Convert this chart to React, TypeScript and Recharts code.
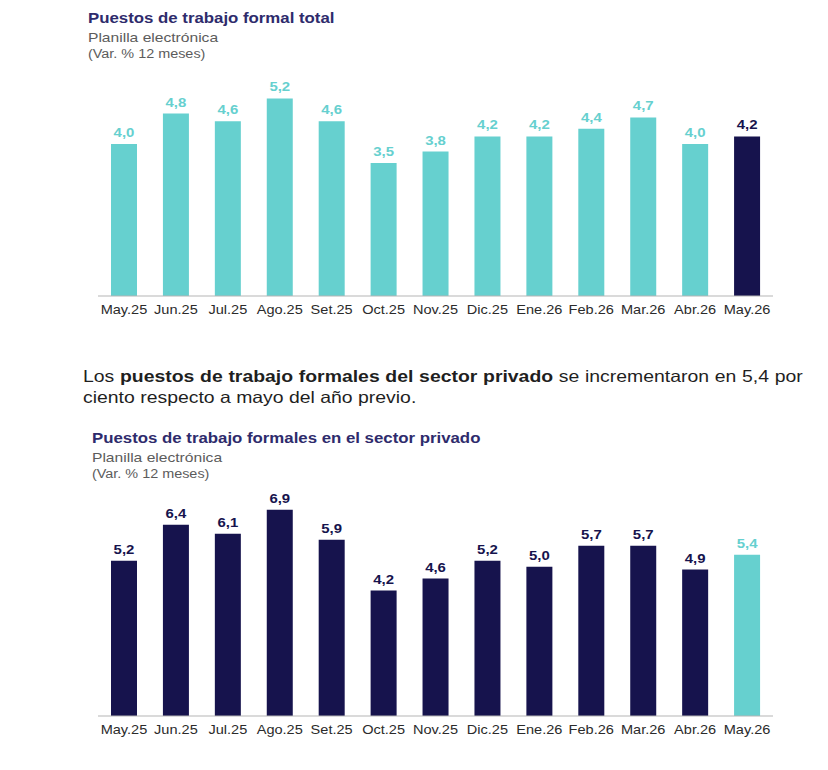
import { Bar, BarChart, Cell, LabelList, XAxis, YAxis } from "recharts";

const TEAL = "#66d0cf";
const NAVY = "#16134d";

const months = [
  "May.25", "Jun.25", "Jul.25", "Ago.25", "Set.25", "Oct.25", "Nov.25",
  "Dic.25", "Ene.26", "Feb.26", "Mar.26", "Abr.26", "May.26",
];
const totalValues = [4.0, 4.8, 4.6, 5.2, 4.6, 3.5, 3.8, 4.2, 4.2, 4.4, 4.7, 4.0, 4.2];
const privateValues = [5.2, 6.4, 6.1, 6.9, 5.9, 4.2, 4.6, 5.2, 5.0, 5.7, 5.7, 4.9, 5.4];

const font = "'Liberation Sans', Arial, sans-serif";
// the source picture is stretched sideways, so text gets a similar stretch
const STRETCH = 1.2;
const TICK_STRETCH = 1.12;

function fmt(v: number) {
  return v.toFixed(1).replace(".", ",");
}

function MonthTick(props: any) {
  const { x, y, payload } = props;
  return (
    <text
      transform={`translate(${x}, ${y + 16}) scale(${TICK_STRETCH}, 1)`}
      textAnchor="middle"
      fill="#2b2b2b"
      fontSize={13}
      fontFamily={font}
    >
      {payload.value}
    </text>
  );
}

interface PanelProps {
  top: number;
  title: string;
  titleLeft: number;
  values: number[];
  colors: string[];
  maxY: number;
  marginTop: number;
}

function Panel({ top, title, titleLeft, values, colors, maxY, marginTop }: PanelProps) {
  const data = months.map((m, i) => ({ month: m, value: values[i] }));

  const renderLabel = (props: any) => {
    const { x, y, width, value, index } = props;
    return (
      <text
        transform={`translate(${x + width / 2}, ${y - 7}) scale(1.15, 1)`}
        textAnchor="middle"
        fill={colors[index]}
        fontSize={13}
        fontWeight="bold"
        fontFamily={font}
      >
        {fmt(value)}
      </text>
    );
  };

  return (
    <div style={{ position: "absolute", left: 0, top, width: 828, height: 340 }}>
      <div
        style={{
          position: "absolute",
          left: titleLeft,
          top: 8,
          fontFamily: font,
          transform: `scaleX(${STRETCH})`,
          transformOrigin: "left top",
          whiteSpace: "nowrap",
        }}
      >
        <div style={{ fontSize: 14, fontWeight: "bold", color: "#2e2b6c", lineHeight: "21px" }}>
          {title}
        </div>
        <div style={{ fontSize: 13, color: "#5c5c5c", lineHeight: "17px" }}>Planilla electrónica</div>
        <div style={{ fontSize: 12, color: "#5c5c5c", lineHeight: "17px" }}>(Var. % 12 meses)</div>
      </div>
      <BarChart
        width={828}
        height={330}
        data={data}
        margin={{ top: marginTop, right: 55, left: 98, bottom: 4 }}
        barSize={26}
      >
        <XAxis
          dataKey="month"
          height={30}
          tickLine={false}
          tickSize={0}
          interval={0}
          stroke="#b5b5b5"
          tick={<MonthTick />}
        />
        <YAxis hide domain={[0, maxY]} />
        <Bar dataKey="value" isAnimationActive={false}>
          {data.map((d, i) => (
            <Cell key={d.month} fill={colors[i]} />
          ))}
          <LabelList dataKey="value" content={renderLabel} />
        </Bar>
      </BarChart>
    </div>
  );
}

export default function App() {
  const totalColors = months.map((_, i) => (i === months.length - 1 ? NAVY : TEAL));
  const privateColors = months.map((_, i) => (i === months.length - 1 ? TEAL : NAVY));

  return (
    <div
      style={{
        position: "absolute",
        left: 0,
        top: 0,
        width: 828,
        height: 770,
        background: "#ffffff",
        overflow: "hidden",
      }}
    >
      <Panel
        top={0}
        title="Puestos de trabajo formal total"
        titleLeft={88}
        values={totalValues}
        colors={totalColors}
        maxY={6}
        marginTop={68}
      />
      <div
        style={{
          position: "absolute",
          left: 83,
          top: 366,
          width: 612,
          fontFamily: font,
          fontSize: 16.5,
          lineHeight: "21px",
          color: "#1f1f1f",
          textAlign: "justify",
          transform: "scaleX(1.176)",
          transformOrigin: "left top",
        }}
      >
        Los <b>puestos de trabajo formales del sector privado</b> se incrementaron en 5,4 por
        ciento respecto a mayo del año previo.
      </div>
      <Panel
        top={420}
        title="Puestos de trabajo formales en el sector privado"
        titleLeft={92}
        values={privateValues}
        colors={privateColors}
        maxY={8}
        marginTop={57}
      />
    </div>
  );
}
